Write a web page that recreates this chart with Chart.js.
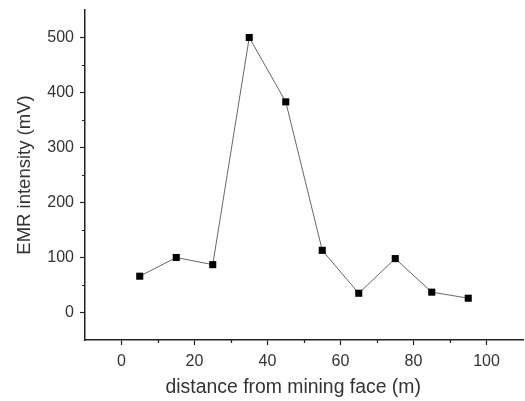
<!DOCTYPE html>
<html>
<head>
<meta charset="utf-8">
<script src="https://cdn.jsdelivr.net/npm/chart.js@4/dist/chart.umd.min.js"></script>
<style>
  html, body { margin: 0; padding: 0; background: #fff; }
  #wrap { width: 525px; height: 401px; position: relative; }
</style>
</head>
<body>
<div id="wrap"><canvas id="c"></canvas></div>
<script>
// Data
const distances = [5, 15, 25, 35, 45, 55, 65, 75, 85, 95];
const emrValues = [66, 100, 87, 500, 383, 113, 35, 98, 37, 26];

// Axis ticks
const xTickValues = [0, 20, 40, 60, 80, 100];
const xMinorTicks = [10, 30, 50, 70, 90];
const yTickValues = [0, 100, 200, 300, 400, 500];
const yMinorTicks = [50, 150, 250, 350, 450];

const axisColor = '#222';
const textColor = '#333';

const minorTickPlugin = {
  id: 'minorTicks',
  afterDraw(chart) {
    const ctx = chart.ctx;
    const xs = chart.scales.x, ys = chart.scales.y;
    const area = chart.chartArea;
    ctx.save();
    ctx.strokeStyle = axisColor;
    ctx.lineWidth = 1.2;
    ctx.beginPath();
    xMinorTicks.forEach(v => {
      const px = Math.round(xs.getPixelForValue(v)) + 0.5;
      ctx.moveTo(px, area.bottom);
      ctx.lineTo(px, area.bottom + 3);
    });
    yMinorTicks.forEach(v => {
      const py = Math.round(ys.getPixelForValue(v)) + 0.5;
      ctx.moveTo(area.left, py);
      ctx.lineTo(area.left - 3, py);
    });
    ctx.stroke();
    ctx.restore();
  }
};

new Chart(document.getElementById('c'), {
  type: 'scatter',
  data: {
    datasets: [{
      data: distances.map((d, i) => ({ x: d, y: emrValues[i] })),
      showLine: true,
      borderColor: '#666',
      borderWidth: 1,
      pointStyle: 'rect',
      pointRadius: 5,
      pointHoverRadius: 5,
      pointBackgroundColor: '#000',
      pointBorderColor: '#000',
      pointBorderWidth: 0
    }]
  },
  options: {
    responsive: true,
    maintainAspectRatio: false,
    animation: false,
    events: [],
    layout: { autoPadding: false, padding: { left: 0, right: 2, top: 10, bottom: 0 } },
    plugins: { legend: { display: false }, tooltip: { enabled: false } },
    scales: {
      x: {
        type: 'linear',
        min: -10,
        max: 110,
        afterBuildTicks: s => { s.ticks = xTickValues.map(v => ({ value: v })); },
        afterFit: s => { s.height = 61; s.paddingLeft = 0; s.paddingRight = 0; },
        border: { display: true, color: axisColor, width: 1.5 },
        grid: { drawOnChartArea: false, drawTicks: true, tickLength: 5, tickColor: axisColor, tickWidth: 1.2 },
        ticks: { color: textColor, font: { family: 'Liberation Sans, Arial, sans-serif', size: 16 }, padding: 7, maxRotation: 0 },
        title: { display: true, text: 'distance from mining face (m)    ', color: textColor,
                 font: { family: 'Liberation Sans, Arial, sans-serif', size: 19.4 }, padding: { top: 0, bottom: 2 } }
      },
      y: {
        type: 'linear',
        min: -50,
        max: 550,
        afterBuildTicks: s => { s.ticks = yTickValues.map(v => ({ value: v })); },
        afterFit: s => { s.width = 85; s.paddingTop = 0; s.paddingBottom = 0; },
        border: { display: true, color: axisColor, width: 1.5 },
        grid: { drawOnChartArea: false, drawTicks: true, tickLength: 5, tickColor: axisColor, tickWidth: 1.2 },
        ticks: { color: textColor, font: { family: 'Liberation Sans, Arial, sans-serif', size: 16 }, padding: 6 },
        title: { display: true, text: 'EMR intensity (mV)', color: textColor,
                 font: { family: 'Liberation Sans, Arial, sans-serif', size: 18.5 }, padding: { top: 14, bottom: 0 } }
      }
    }
  },
  plugins: [minorTickPlugin]
});
</script>
</body>
</html>
